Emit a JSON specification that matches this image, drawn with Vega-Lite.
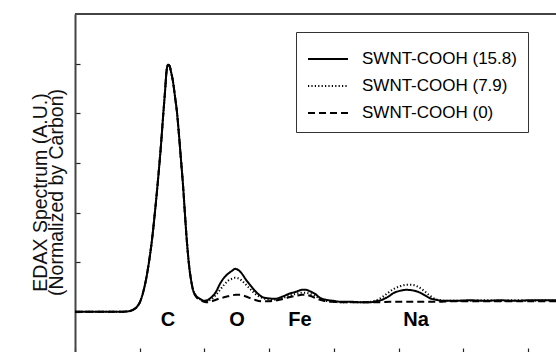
{
  "$schema": "https://vega.github.io/schema/vega-lite/v6.json",
  "autosize": {"type": "none"},
  "padding": {"left": 75, "top": 14, "right": 0, "bottom": 0},
  "width": 481,
  "height": 338,
  "background": "white",
  "config": {
    "view": {"stroke": null},
    "font": "Liberation Sans",
    "axis": {"grid": false}
  },
  "datasets": {
    "spectra": [
      {"series": "SWNT-COOH (15.8)", "x": 0, "y": 0},
      {"series": "SWNT-COOH (15.8)", "x": 0.386, "y": 0},
      {"series": "SWNT-COOH (15.8)", "x": 0.696, "y": 0},
      {"series": "SWNT-COOH (15.8)", "x": 0.819, "y": 0.01},
      {"series": "SWNT-COOH (15.8)", "x": 0.896, "y": 0.04},
      {"series": "SWNT-COOH (15.8)", "x": 0.958, "y": 0.101},
      {"series": "SWNT-COOH (15.8)", "x": 1.005, "y": 0.201},
      {"series": "SWNT-COOH (15.8)", "x": 1.051, "y": 0.383},
      {"series": "SWNT-COOH (15.8)", "x": 1.097, "y": 0.645},
      {"series": "SWNT-COOH (15.8)", "x": 1.144, "y": 1.007},
      {"series": "SWNT-COOH (15.8)", "x": 1.19, "y": 1.451},
      {"series": "SWNT-COOH (15.8)", "x": 1.236, "y": 2.015},
      {"series": "SWNT-COOH (15.8)", "x": 1.283, "y": 2.66},
      {"series": "SWNT-COOH (15.8)", "x": 1.329, "y": 3.365},
      {"series": "SWNT-COOH (15.8)", "x": 1.36, "y": 3.909},
      {"series": "SWNT-COOH (15.8)", "x": 1.391, "y": 4.433},
      {"series": "SWNT-COOH (15.8)", "x": 1.414, "y": 4.836},
      {"series": "SWNT-COOH (15.8)", "x": 1.437, "y": 4.977},
      {"series": "SWNT-COOH (15.8)", "x": 1.461, "y": 4.957},
      {"series": "SWNT-COOH (15.8)", "x": 1.484, "y": 4.836},
      {"series": "SWNT-COOH (15.8)", "x": 1.515, "y": 4.634},
      {"series": "SWNT-COOH (15.8)", "x": 1.546, "y": 4.332},
      {"series": "SWNT-COOH (15.8)", "x": 1.577, "y": 4.01},
      {"series": "SWNT-COOH (15.8)", "x": 1.607, "y": 3.566},
      {"series": "SWNT-COOH (15.8)", "x": 1.638, "y": 3.063},
      {"series": "SWNT-COOH (15.8)", "x": 1.669, "y": 2.559},
      {"series": "SWNT-COOH (15.8)", "x": 1.7, "y": 1.954},
      {"series": "SWNT-COOH (15.8)", "x": 1.731, "y": 1.39},
      {"series": "SWNT-COOH (15.8)", "x": 1.762, "y": 0.947},
      {"series": "SWNT-COOH (15.8)", "x": 1.793, "y": 0.645},
      {"series": "SWNT-COOH (15.8)", "x": 1.824, "y": 0.443},
      {"series": "SWNT-COOH (15.8)", "x": 1.87, "y": 0.322},
      {"series": "SWNT-COOH (15.8)", "x": 1.932, "y": 0.262},
      {"series": "SWNT-COOH (15.8)", "x": 1.994, "y": 0.222},
      {"series": "SWNT-COOH (15.8)", "x": 2.056, "y": 0.242},
      {"series": "SWNT-COOH (15.8)", "x": 2.117, "y": 0.302},
      {"series": "SWNT-COOH (15.8)", "x": 2.179, "y": 0.403},
      {"series": "SWNT-COOH (15.8)", "x": 2.241, "y": 0.564},
      {"series": "SWNT-COOH (15.8)", "x": 2.303, "y": 0.685},
      {"series": "SWNT-COOH (15.8)", "x": 2.365, "y": 0.766},
      {"series": "SWNT-COOH (15.8)", "x": 2.427, "y": 0.826},
      {"series": "SWNT-COOH (15.8)", "x": 2.473, "y": 0.866},
      {"series": "SWNT-COOH (15.8)", "x": 2.519, "y": 0.846},
      {"series": "SWNT-COOH (15.8)", "x": 2.581, "y": 0.766},
      {"series": "SWNT-COOH (15.8)", "x": 2.643, "y": 0.645},
      {"series": "SWNT-COOH (15.8)", "x": 2.705, "y": 0.544},
      {"series": "SWNT-COOH (15.8)", "x": 2.767, "y": 0.443},
      {"series": "SWNT-COOH (15.8)", "x": 2.828, "y": 0.363},
      {"series": "SWNT-COOH (15.8)", "x": 2.89, "y": 0.302},
      {"series": "SWNT-COOH (15.8)", "x": 2.983, "y": 0.272},
      {"series": "SWNT-COOH (15.8)", "x": 3.091, "y": 0.262},
      {"series": "SWNT-COOH (15.8)", "x": 3.199, "y": 0.302},
      {"series": "SWNT-COOH (15.8)", "x": 3.308, "y": 0.363},
      {"series": "SWNT-COOH (15.8)", "x": 3.416, "y": 0.403},
      {"series": "SWNT-COOH (15.8)", "x": 3.509, "y": 0.443},
      {"series": "SWNT-COOH (15.8)", "x": 3.57, "y": 0.443},
      {"series": "SWNT-COOH (15.8)", "x": 3.632, "y": 0.413},
      {"series": "SWNT-COOH (15.8)", "x": 3.709, "y": 0.363},
      {"series": "SWNT-COOH (15.8)", "x": 3.787, "y": 0.282},
      {"series": "SWNT-COOH (15.8)", "x": 3.879, "y": 0.242},
      {"series": "SWNT-COOH (15.8)", "x": 3.988, "y": 0.222},
      {"series": "SWNT-COOH (15.8)", "x": 4.127, "y": 0.201},
      {"series": "SWNT-COOH (15.8)", "x": 4.281, "y": 0.201},
      {"series": "SWNT-COOH (15.8)", "x": 4.436, "y": 0.191},
      {"series": "SWNT-COOH (15.8)", "x": 4.56, "y": 0.191},
      {"series": "SWNT-COOH (15.8)", "x": 4.652, "y": 0.212},
      {"series": "SWNT-COOH (15.8)", "x": 4.745, "y": 0.242},
      {"series": "SWNT-COOH (15.8)", "x": 4.838, "y": 0.302},
      {"series": "SWNT-COOH (15.8)", "x": 4.93, "y": 0.383},
      {"series": "SWNT-COOH (15.8)", "x": 5.023, "y": 0.423},
      {"series": "SWNT-COOH (15.8)", "x": 5.116, "y": 0.443},
      {"series": "SWNT-COOH (15.8)", "x": 5.209, "y": 0.433},
      {"series": "SWNT-COOH (15.8)", "x": 5.301, "y": 0.403},
      {"series": "SWNT-COOH (15.8)", "x": 5.394, "y": 0.343},
      {"series": "SWNT-COOH (15.8)", "x": 5.487, "y": 0.272},
      {"series": "SWNT-COOH (15.8)", "x": 5.58, "y": 0.242},
      {"series": "SWNT-COOH (15.8)", "x": 5.703, "y": 0.222},
      {"series": "SWNT-COOH (15.8)", "x": 5.889, "y": 0.222},
      {"series": "SWNT-COOH (15.8)", "x": 6.105, "y": 0.232},
      {"series": "SWNT-COOH (15.8)", "x": 6.337, "y": 0.222},
      {"series": "SWNT-COOH (15.8)", "x": 6.569, "y": 0.232},
      {"series": "SWNT-COOH (15.8)", "x": 6.801, "y": 0.222},
      {"series": "SWNT-COOH (15.8)", "x": 7.032, "y": 0.232},
      {"series": "SWNT-COOH (15.8)", "x": 7.264, "y": 0.232},
      {"series": "SWNT-COOH (15.8)", "x": 7.434, "y": 0.232},

      {"series": "SWNT-COOH (7.9)", "x": 0, "y": 0},
      {"series": "SWNT-COOH (7.9)", "x": 0.386, "y": 0},
      {"series": "SWNT-COOH (7.9)", "x": 0.696, "y": 0},
      {"series": "SWNT-COOH (7.9)", "x": 0.819, "y": 0.01},
      {"series": "SWNT-COOH (7.9)", "x": 0.896, "y": 0.04},
      {"series": "SWNT-COOH (7.9)", "x": 0.958, "y": 0.101},
      {"series": "SWNT-COOH (7.9)", "x": 1.005, "y": 0.201},
      {"series": "SWNT-COOH (7.9)", "x": 1.051, "y": 0.383},
      {"series": "SWNT-COOH (7.9)", "x": 1.097, "y": 0.645},
      {"series": "SWNT-COOH (7.9)", "x": 1.144, "y": 1.007},
      {"series": "SWNT-COOH (7.9)", "x": 1.19, "y": 1.451},
      {"series": "SWNT-COOH (7.9)", "x": 1.236, "y": 2.015},
      {"series": "SWNT-COOH (7.9)", "x": 1.283, "y": 2.66},
      {"series": "SWNT-COOH (7.9)", "x": 1.329, "y": 3.365},
      {"series": "SWNT-COOH (7.9)", "x": 1.36, "y": 3.909},
      {"series": "SWNT-COOH (7.9)", "x": 1.391, "y": 4.433},
      {"series": "SWNT-COOH (7.9)", "x": 1.414, "y": 4.836},
      {"series": "SWNT-COOH (7.9)", "x": 1.437, "y": 4.977},
      {"series": "SWNT-COOH (7.9)", "x": 1.461, "y": 4.957},
      {"series": "SWNT-COOH (7.9)", "x": 1.484, "y": 4.836},
      {"series": "SWNT-COOH (7.9)", "x": 1.515, "y": 4.634},
      {"series": "SWNT-COOH (7.9)", "x": 1.546, "y": 4.332},
      {"series": "SWNT-COOH (7.9)", "x": 1.577, "y": 4.01},
      {"series": "SWNT-COOH (7.9)", "x": 1.607, "y": 3.566},
      {"series": "SWNT-COOH (7.9)", "x": 1.638, "y": 3.063},
      {"series": "SWNT-COOH (7.9)", "x": 1.669, "y": 2.559},
      {"series": "SWNT-COOH (7.9)", "x": 1.7, "y": 1.954},
      {"series": "SWNT-COOH (7.9)", "x": 1.731, "y": 1.39},
      {"series": "SWNT-COOH (7.9)", "x": 1.762, "y": 0.947},
      {"series": "SWNT-COOH (7.9)", "x": 1.793, "y": 0.645},
      {"series": "SWNT-COOH (7.9)", "x": 1.824, "y": 0.443},
      {"series": "SWNT-COOH (7.9)", "x": 1.87, "y": 0.322},
      {"series": "SWNT-COOH (7.9)", "x": 1.932, "y": 0.252},
      {"series": "SWNT-COOH (7.9)", "x": 1.994, "y": 0.212},
      {"series": "SWNT-COOH (7.9)", "x": 2.056, "y": 0.222},
      {"series": "SWNT-COOH (7.9)", "x": 2.117, "y": 0.262},
      {"series": "SWNT-COOH (7.9)", "x": 2.179, "y": 0.343},
      {"series": "SWNT-COOH (7.9)", "x": 2.241, "y": 0.443},
      {"series": "SWNT-COOH (7.9)", "x": 2.303, "y": 0.544},
      {"series": "SWNT-COOH (7.9)", "x": 2.365, "y": 0.625},
      {"series": "SWNT-COOH (7.9)", "x": 2.427, "y": 0.665},
      {"series": "SWNT-COOH (7.9)", "x": 2.473, "y": 0.685},
      {"series": "SWNT-COOH (7.9)", "x": 2.519, "y": 0.675},
      {"series": "SWNT-COOH (7.9)", "x": 2.581, "y": 0.625},
      {"series": "SWNT-COOH (7.9)", "x": 2.643, "y": 0.544},
      {"series": "SWNT-COOH (7.9)", "x": 2.705, "y": 0.463},
      {"series": "SWNT-COOH (7.9)", "x": 2.767, "y": 0.383},
      {"series": "SWNT-COOH (7.9)", "x": 2.828, "y": 0.322},
      {"series": "SWNT-COOH (7.9)", "x": 2.89, "y": 0.282},
      {"series": "SWNT-COOH (7.9)", "x": 2.983, "y": 0.252},
      {"series": "SWNT-COOH (7.9)", "x": 3.091, "y": 0.242},
      {"series": "SWNT-COOH (7.9)", "x": 3.199, "y": 0.272},
      {"series": "SWNT-COOH (7.9)", "x": 3.308, "y": 0.322},
      {"series": "SWNT-COOH (7.9)", "x": 3.416, "y": 0.363},
      {"series": "SWNT-COOH (7.9)", "x": 3.509, "y": 0.383},
      {"series": "SWNT-COOH (7.9)", "x": 3.57, "y": 0.383},
      {"series": "SWNT-COOH (7.9)", "x": 3.632, "y": 0.363},
      {"series": "SWNT-COOH (7.9)", "x": 3.709, "y": 0.322},
      {"series": "SWNT-COOH (7.9)", "x": 3.787, "y": 0.262},
      {"series": "SWNT-COOH (7.9)", "x": 3.879, "y": 0.222},
      {"series": "SWNT-COOH (7.9)", "x": 3.988, "y": 0.201},
      {"series": "SWNT-COOH (7.9)", "x": 4.127, "y": 0.191},
      {"series": "SWNT-COOH (7.9)", "x": 4.281, "y": 0.191},
      {"series": "SWNT-COOH (7.9)", "x": 4.436, "y": 0.191},
      {"series": "SWNT-COOH (7.9)", "x": 4.56, "y": 0.201},
      {"series": "SWNT-COOH (7.9)", "x": 4.652, "y": 0.232},
      {"series": "SWNT-COOH (7.9)", "x": 4.745, "y": 0.292},
      {"series": "SWNT-COOH (7.9)", "x": 4.838, "y": 0.383},
      {"series": "SWNT-COOH (7.9)", "x": 4.93, "y": 0.463},
      {"series": "SWNT-COOH (7.9)", "x": 5.023, "y": 0.514},
      {"series": "SWNT-COOH (7.9)", "x": 5.116, "y": 0.544},
      {"series": "SWNT-COOH (7.9)", "x": 5.209, "y": 0.544},
      {"series": "SWNT-COOH (7.9)", "x": 5.301, "y": 0.504},
      {"series": "SWNT-COOH (7.9)", "x": 5.394, "y": 0.423},
      {"series": "SWNT-COOH (7.9)", "x": 5.487, "y": 0.322},
      {"series": "SWNT-COOH (7.9)", "x": 5.58, "y": 0.252},
      {"series": "SWNT-COOH (7.9)", "x": 5.703, "y": 0.222},
      {"series": "SWNT-COOH (7.9)", "x": 5.889, "y": 0.222},
      {"series": "SWNT-COOH (7.9)", "x": 6.105, "y": 0.222},
      {"series": "SWNT-COOH (7.9)", "x": 6.337, "y": 0.232},
      {"series": "SWNT-COOH (7.9)", "x": 6.569, "y": 0.222},
      {"series": "SWNT-COOH (7.9)", "x": 6.801, "y": 0.232},
      {"series": "SWNT-COOH (7.9)", "x": 7.032, "y": 0.222},
      {"series": "SWNT-COOH (7.9)", "x": 7.264, "y": 0.232},
      {"series": "SWNT-COOH (7.9)", "x": 7.434, "y": 0.222},

      {"series": "SWNT-COOH (0)", "x": 0, "y": 0},
      {"series": "SWNT-COOH (0)", "x": 0.386, "y": 0},
      {"series": "SWNT-COOH (0)", "x": 0.696, "y": 0},
      {"series": "SWNT-COOH (0)", "x": 0.819, "y": 0.01},
      {"series": "SWNT-COOH (0)", "x": 0.896, "y": 0.04},
      {"series": "SWNT-COOH (0)", "x": 0.958, "y": 0.101},
      {"series": "SWNT-COOH (0)", "x": 1.005, "y": 0.201},
      {"series": "SWNT-COOH (0)", "x": 1.051, "y": 0.383},
      {"series": "SWNT-COOH (0)", "x": 1.097, "y": 0.645},
      {"series": "SWNT-COOH (0)", "x": 1.144, "y": 1.007},
      {"series": "SWNT-COOH (0)", "x": 1.19, "y": 1.451},
      {"series": "SWNT-COOH (0)", "x": 1.236, "y": 2.015},
      {"series": "SWNT-COOH (0)", "x": 1.283, "y": 2.66},
      {"series": "SWNT-COOH (0)", "x": 1.329, "y": 3.365},
      {"series": "SWNT-COOH (0)", "x": 1.36, "y": 3.909},
      {"series": "SWNT-COOH (0)", "x": 1.391, "y": 4.433},
      {"series": "SWNT-COOH (0)", "x": 1.414, "y": 4.836},
      {"series": "SWNT-COOH (0)", "x": 1.437, "y": 4.977},
      {"series": "SWNT-COOH (0)", "x": 1.461, "y": 4.957},
      {"series": "SWNT-COOH (0)", "x": 1.484, "y": 4.836},
      {"series": "SWNT-COOH (0)", "x": 1.515, "y": 4.634},
      {"series": "SWNT-COOH (0)", "x": 1.546, "y": 4.332},
      {"series": "SWNT-COOH (0)", "x": 1.577, "y": 4.01},
      {"series": "SWNT-COOH (0)", "x": 1.607, "y": 3.566},
      {"series": "SWNT-COOH (0)", "x": 1.638, "y": 3.063},
      {"series": "SWNT-COOH (0)", "x": 1.669, "y": 2.559},
      {"series": "SWNT-COOH (0)", "x": 1.7, "y": 1.954},
      {"series": "SWNT-COOH (0)", "x": 1.731, "y": 1.39},
      {"series": "SWNT-COOH (0)", "x": 1.762, "y": 0.947},
      {"series": "SWNT-COOH (0)", "x": 1.793, "y": 0.645},
      {"series": "SWNT-COOH (0)", "x": 1.824, "y": 0.443},
      {"series": "SWNT-COOH (0)", "x": 1.87, "y": 0.302},
      {"series": "SWNT-COOH (0)", "x": 1.932, "y": 0.242},
      {"series": "SWNT-COOH (0)", "x": 1.994, "y": 0.201},
      {"series": "SWNT-COOH (0)", "x": 2.056, "y": 0.191},
      {"series": "SWNT-COOH (0)", "x": 2.117, "y": 0.212},
      {"series": "SWNT-COOH (0)", "x": 2.179, "y": 0.242},
      {"series": "SWNT-COOH (0)", "x": 2.241, "y": 0.272},
      {"series": "SWNT-COOH (0)", "x": 2.303, "y": 0.292},
      {"series": "SWNT-COOH (0)", "x": 2.365, "y": 0.312},
      {"series": "SWNT-COOH (0)", "x": 2.427, "y": 0.332},
      {"series": "SWNT-COOH (0)", "x": 2.488, "y": 0.343},
      {"series": "SWNT-COOH (0)", "x": 2.55, "y": 0.343},
      {"series": "SWNT-COOH (0)", "x": 2.612, "y": 0.322},
      {"series": "SWNT-COOH (0)", "x": 2.674, "y": 0.292},
      {"series": "SWNT-COOH (0)", "x": 2.736, "y": 0.262},
      {"series": "SWNT-COOH (0)", "x": 2.798, "y": 0.232},
      {"series": "SWNT-COOH (0)", "x": 2.89, "y": 0.212},
      {"series": "SWNT-COOH (0)", "x": 2.983, "y": 0.212},
      {"series": "SWNT-COOH (0)", "x": 3.091, "y": 0.222},
      {"series": "SWNT-COOH (0)", "x": 3.199, "y": 0.252},
      {"series": "SWNT-COOH (0)", "x": 3.308, "y": 0.292},
      {"series": "SWNT-COOH (0)", "x": 3.416, "y": 0.322},
      {"series": "SWNT-COOH (0)", "x": 3.509, "y": 0.343},
      {"series": "SWNT-COOH (0)", "x": 3.57, "y": 0.343},
      {"series": "SWNT-COOH (0)", "x": 3.632, "y": 0.322},
      {"series": "SWNT-COOH (0)", "x": 3.709, "y": 0.282},
      {"series": "SWNT-COOH (0)", "x": 3.787, "y": 0.242},
      {"series": "SWNT-COOH (0)", "x": 3.879, "y": 0.212},
      {"series": "SWNT-COOH (0)", "x": 3.988, "y": 0.201},
      {"series": "SWNT-COOH (0)", "x": 4.127, "y": 0.191},
      {"series": "SWNT-COOH (0)", "x": 4.281, "y": 0.191},
      {"series": "SWNT-COOH (0)", "x": 4.436, "y": 0.191},
      {"series": "SWNT-COOH (0)", "x": 4.56, "y": 0.191},
      {"series": "SWNT-COOH (0)", "x": 4.714, "y": 0.191},
      {"series": "SWNT-COOH (0)", "x": 4.869, "y": 0.201},
      {"series": "SWNT-COOH (0)", "x": 5.023, "y": 0.201},
      {"series": "SWNT-COOH (0)", "x": 5.178, "y": 0.201},
      {"series": "SWNT-COOH (0)", "x": 5.332, "y": 0.201},
      {"series": "SWNT-COOH (0)", "x": 5.487, "y": 0.201},
      {"series": "SWNT-COOH (0)", "x": 5.641, "y": 0.201},
      {"series": "SWNT-COOH (0)", "x": 5.796, "y": 0.212},
      {"series": "SWNT-COOH (0)", "x": 6.105, "y": 0.212},
      {"series": "SWNT-COOH (0)", "x": 6.337, "y": 0.212},
      {"series": "SWNT-COOH (0)", "x": 6.569, "y": 0.212},
      {"series": "SWNT-COOH (0)", "x": 6.801, "y": 0.212},
      {"series": "SWNT-COOH (0)", "x": 7.032, "y": 0.212},
      {"series": "SWNT-COOH (0)", "x": 7.264, "y": 0.212},
      {"series": "SWNT-COOH (0)", "x": 7.434, "y": 0.212}
    ],
    "elements": [
      {"element": "C", "x": 1.437},
      {"element": "O", "x": 2.504},
      {"element": "Fe", "x": 3.478},
      {"element": "Na", "x": 5.27}
    ],
    "frame": [{"top": 6.0}]
  },
  "layer": [
    {
      "data": {"name": "spectra"},
      "mark": {"type": "line", "color": "black", "strokeWidth": 2, "interpolate": "monotone", "clip": true},
      "encoding": {
        "x": {
          "field": "x", "type": "quantitative",
          "scale": {"domain": [0, 7.434], "nice": false, "zero": false},
          "axis": {
            "title": null, "labels": false, "domain": false,
            "values": [0, 1, 2, 3, 4, 5, 6, 7],
            "tickSize": -4, "tickColor": "#222222", "tickWidth": 1.2
          }
        },
        "y": {
          "field": "y", "type": "quantitative",
          "scale": {"domain": [-0.81, 6.0], "nice": false, "zero": false},
          "axis": {
            "title": ["EDAX Spectrum (A.U.)", "(Normalized by Carbon)"],
            "titleFont": "Liberation Sans", "titleFontSize": 19.5, "titleFontWeight": "normal",
            "titleColor": "#111111", "titleLineHeight": 16,
            "titleX": -44, "titleY": 178, "titleAlign": "center", "titleBaseline": "top", "titleAngle": 270,
            "labels": false, "values": [0, 1, 2, 3, 4, 5],
            "tickSize": -5, "tickColor": "#222222", "tickWidth": 1.2,
            "domainColor": "#444444", "domainWidth": 2
          }
        },
        "strokeDash": {
          "field": "series", "type": "nominal",
          "scale": {
            "domain": ["SWNT-COOH (15.8)", "SWNT-COOH (7.9)", "SWNT-COOH (0)"],
            "range": [[1, 0], [1.2, 2.2], [7, 4]]
          },
          "legend": {
            "title": null, "orient": "none", "legendX": 221, "legendY": 18,
            "strokeColor": "#333333", "padding": 11, "fillColor": "white",
            "symbolType": "M-1,0L1.667,0", "symbolSize": 900, "symbolStrokeWidth": 1.8, "symbolStrokeColor": "black",
            "labelFont": "Liberation Sans", "labelFontSize": 17, "labelColor": "black",
            "labelOffset": 23, "rowPadding": 3
          }
        }
      }
    },
    {
      "data": {"name": "frame"},
      "mark": {"type": "rule", "color": "#444444", "strokeWidth": 2},
      "encoding": {
        "y": {"field": "top", "type": "quantitative"}
      }
    },
    {
      "data": {"name": "elements"},
      "mark": {"type": "text", "font": "Liberation Sans", "fontSize": 20, "fontWeight": "bold", "baseline": "middle", "align": "center", "color": "black"},
      "encoding": {
        "x": {"field": "x", "type": "quantitative"},
        "y": {"datum": -0.161},
        "text": {"field": "element", "type": "nominal"}
      }
    }
  ]
}
